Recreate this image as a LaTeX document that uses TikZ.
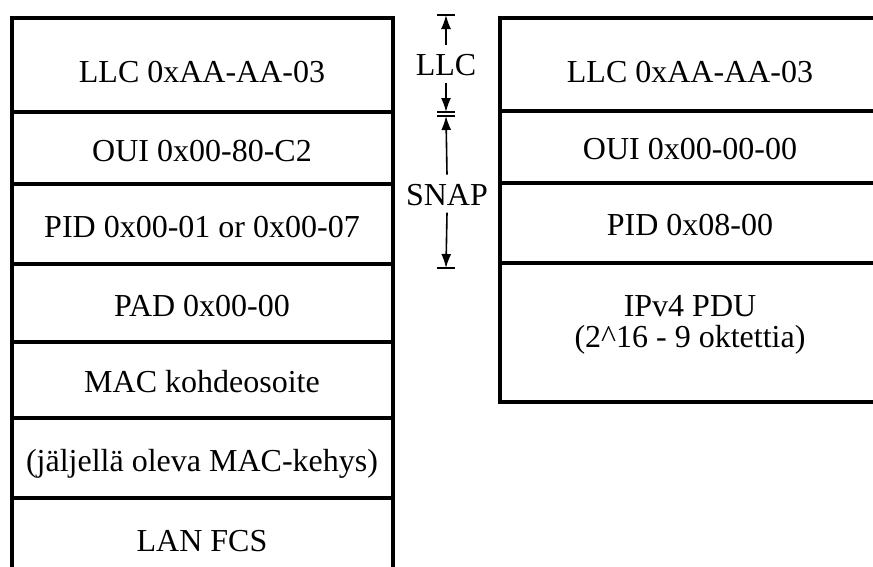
\documentclass[tikz,border=0pt]{standalone}
\usepackage{fontspec}
\setmainfont{Liberation Serif}
\usetikzlibrary{arrows.meta}
\begin{document}
\begin{tikzpicture}[x=1pt,y=-1pt,
  frame/.style={line width=3.6pt,line join=miter},
  lbl/.style={font=\fontsize{32}{31}\selectfont,inner sep=0pt,anchor=base},
  dimline/.style={line width=1.6pt},
  dimtip/.style={dimline,-{Latex[length=14pt,width=10pt]}},
  dimbar/.style={line width=1.6pt}
]
\useasboundingbox (0,0) rectangle (873,566);
\begin{scope}
  \clip (0,0) rectangle (873,566);
  % left frame: 802.2 SNAP encapsulation (bridged)
  \draw[frame] (12,600) -- (12,18) -- (393,18) -- (393,600);
  \foreach \yy in {112,184,264,342,418,498}
    \draw[frame] (12,\yy) -- (393,\yy);
  % right frame: routed IPv4
  \draw[frame] (900,18) -- (500,18) -- (500,402) -- (900,402);
  \foreach \yy in {111,183,263}
    \draw[frame] (500,\yy) -- (900,\yy);
\end{scope}

% left field labels
\node[lbl] (l1) at (202,82)  {LLC 0xAA-AA-03};
\node[lbl] (l2) at (202,161) {OUI 0x00-80-C2};
\node[lbl] (l3) at (202,237) {PID 0x00-01 or 0x00-07};
\node[lbl] (l4) at (202,316) {PAD 0x00-00};
\node[lbl] (l5) at (202,392) {MAC kohdeosoite};
\node[lbl] (l6) at (202,471) {(jäljellä oleva MAC-kehys)};
\node[lbl] (l7) at (202,551) {LAN FCS};

% right field labels
\node[lbl] (r1) at (690,82)  {LLC 0xAA-AA-03};
\node[lbl] (r2) at (690,159) {OUI 0x00-00-00};
\node[lbl] (r3) at (690,235) {PID 0x08-00};
\node[lbl,align=center] (r4) at (690,347) {IPv4 PDU\\(2\textasciicircum16 - 9 oktettia)};

% header span markers
\coordinate (llcTop) at (446,15);
\coordinate (llcBot) at (446,112);
\coordinate (snapTop) at (446,116);
\coordinate (snapBot) at (446,268);
\node[lbl] (llc) at (446,75) {LLC};
\node[lbl] (snap) at (447,205) {SNAP};

\draw[dimtip] ([yshift=9pt]llc.north) -- (llcTop);
\draw[dimtip] ([yshift=-7pt]llc.south) -- (llcBot);
\draw[dimtip] ([yshift=9pt]snap.north) -- (snapTop);
\draw[dimtip] ([yshift=-7pt]snap.south) -- (snapBot);
\foreach \c in {llcTop,llcBot,snapTop,snapBot}
  \draw[dimbar] ([xshift=-9pt]\c) -- ([xshift=9pt]\c);
\end{tikzpicture}
\end{document}
